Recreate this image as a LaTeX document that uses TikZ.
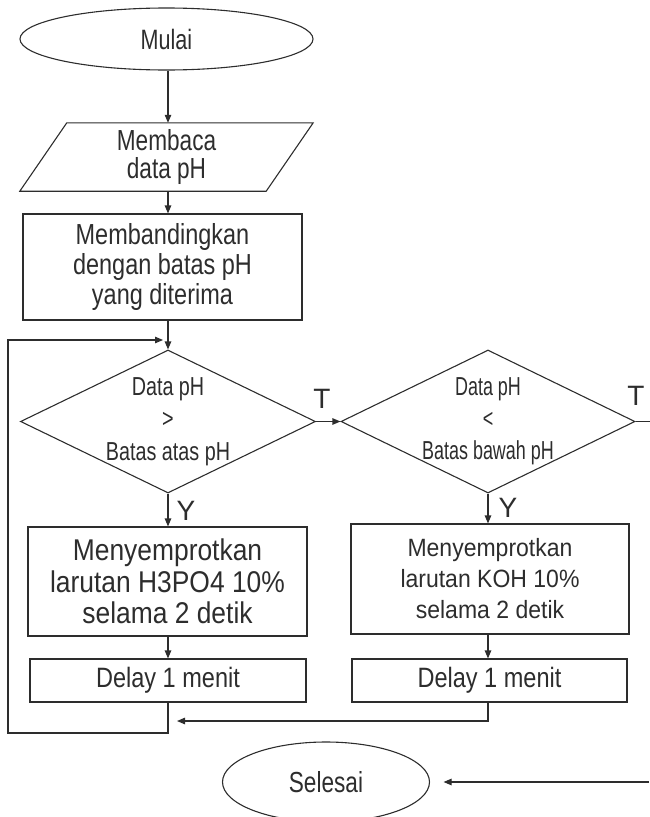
\documentclass[tikz,border=0pt]{standalone}
\usepackage{fontspec}
\setmainfont{Liberation Sans}
\usetikzlibrary{shapes.geometric,arrows.meta,calc}
\definecolor{ink}{RGB}{45,45,45}
\newcommand\fs[3]{\fontsize{#1}{#2}\selectfont\addfontfeatures{FakeStretch=#3}}
\begin{document}
\begin{tikzpicture}[x=1pt,y=-1pt,
  base/.style={draw=ink, line width=1.1pt, inner sep=0pt, align=center, text=ink},
  term/.style={base, ellipse},
  box/.style={base, rectangle},
  dia/.style={base, diamond},
  ln/.style={draw=ink, line width=1.1pt},
  arr/.style={ln, -{Triangle[length=8pt,width=6.5pt]}},
  lab/.style={text=ink, font=\fs{28}{30}{1}, inner sep=0pt}]
\useasboundingbox (0,0) rectangle (649,817);
% nodes
\node[term, minimum width=293, minimum height=62, font=\fs{28}{30}{0.77}] (mulai) at (166.5,39) {Mulai};
\node[inner sep=0pt, minimum width=293, minimum height=68, align=center, text=ink, font=\fs{29}{28}{0.78}] (read) at (166.5,157) {Membaca\\data pH};
\draw[ln] ($(read.north west)+(47,0)$) -- (read.north east) -- ($(read.south east)+(-47,0)$) -- (read.south west) -- cycle;
\node[box, minimum width=279, minimum height=106, font=\fs{29}{30}{0.81}] (cmp) at (162.5,267) {Membandingkan\\dengan batas pH\\yang diterima};
\node[dia, minimum width=295, minimum height=143,
  label={[name=d1t, text=ink, align=center, font=\fs{26}{32.5}{0.76}]center:Data pH\\>\\Batas atas pH}] (d1) at (168,421.5) {};
\node[dia, minimum width=294, minimum height=143,
  label={[name=d2t, text=ink, align=center, font=\fs{26}{32}{0.69}]center:Data pH\\<\\Batas bawah pH}] (d2) at (488,421.5) {};
\node[box, minimum width=279, minimum height=109, font=\fs{30}{31.5}{0.88}] (act1) at (167.5,581.5) {Menyemprotkan\\larutan H3PO4 10\%\\selama 2 detik};
\node[box, minimum width=278, minimum height=110, font=\fs{25}{31}{0.92}] (act2) at (490,579) {Menyemprotkan\\larutan KOH 10\%\\selama 2 detik};
\node[box, minimum width=276, minimum height=43, font=\fs{28}{30}{0.84}] (del1) at (168,680.5) {Delay 1 menit};
\node[box, minimum width=275, minimum height=43, font=\fs{28}{30}{0.84}] (del2) at (489.5,680.5) {Delay 1 menit};
\node[term, minimum width=207, minimum height=80, font=\fs{29}{30}{0.78}] (sel) at (326,782) {Selesai};
% labels
\node[lab] (t1) at (322,399) {T};
\node[lab] (t2) at (636,396) {T};
\node[lab] (y1) at (186,511) {Y};
\node[lab] (y2) at (508,508) {Y};
% helper coordinates
\coordinate (lb) at (8,733);
\coordinate (lt) at (8,340);
\coordinate (li) at (163,340);
\coordinate (ret) at (177,721);
\coordinate (outR) at (650,421.5);
\coordinate (endR) at (649,782);
% connectors
\draw[arr] (mulai.south -| d1.north) -- (read.north -| d1.north);
\draw[arr] (read.south -| d1.north) -- (cmp.north -| d1.north);
\draw[arr] (cmp.south -| d1.north) -- (d1.north);
\draw[arr] (d1.south) -- (act1.north -| d1.south);
\draw[arr] (act1.south -| d1.south) -- (del1.north -| d1.south);
\draw[arr] (d1.east) -- (d2.west);
\draw[arr] (d2.south) -- (act2.north -| d2.south);
\draw[arr] (act2.south -| d2.south) -- (del2.north -| d2.south);
\draw[ln] (d2.east) -- (outR);
\draw[arr] (del2.south -| d2.south) |- (ret);
\draw[arr] (del1.south) |- (lb) -- (lt) -- (li);
\draw[arr] (endR) -- ([xshift=13.5pt]sel.east);
\end{tikzpicture}
\end{document}
